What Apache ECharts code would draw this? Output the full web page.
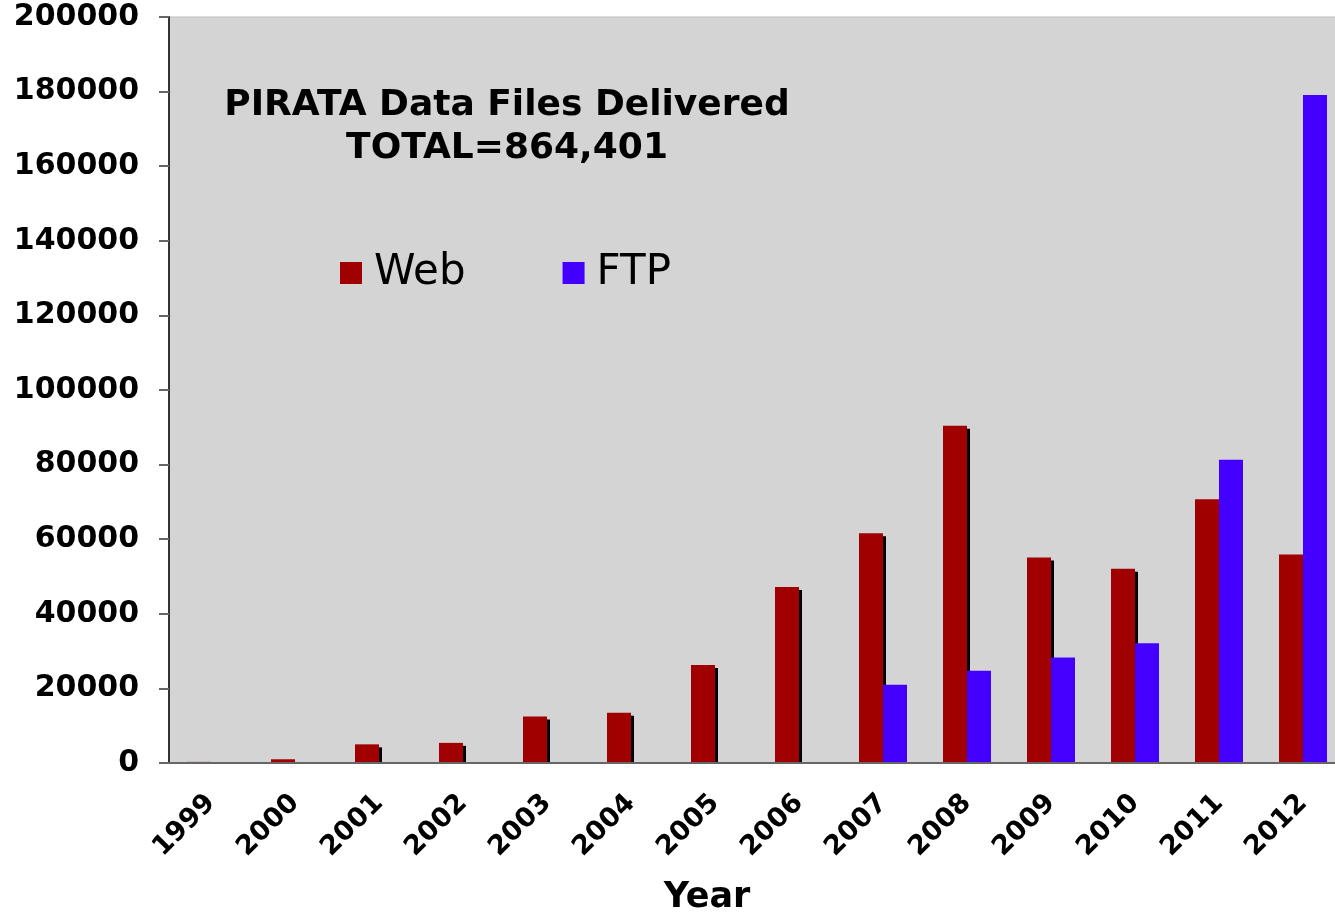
<!DOCTYPE html>
<html>
<head>
<meta charset="utf-8">
<title>PIRATA Data Files Delivered</title>
<script src="https://cdn.jsdelivr.net/npm/echarts@6/dist/echarts.min.js"></script>
<style>
  html, body { margin: 0; padding: 0; background: #fff; }
  #main { width: 1335px; height: 916px; }
</style>
</head>
<body>
<div id="main"></div>
<script>
// data
var years = ['1999', '2000', '2001', '2002', '2003', '2004', '2005', '2006', '2007', '2008', '2009', '2010', '2011', '2012']
var webFiles = [300, 1000, 5000, 5400, 12500, 13500, 26300, 47200, 61600, 90400, 55100, 52100, 70700, 55900]
var ftpFiles = [0, 0, 0, 0, 0, 0, 0, 0, 21000, 24700, 28300, 32100, 81300, 179100]
var titleLines = ['PIRATA Data Files Delivered', 'TOTAL=864,401']

var font = 'DejaVu Sans'
var chart = echarts.init(document.getElementById('main'))
var option = {
  animation: false,
  backgroundColor: '#fff',
  title: {
    text: titleLines.join('\n'),
    left: 502,
    top: 79,
    textAlign: 'center',
    textStyle: {
      fontFamily: font,
      fontSize: 36,
      fontWeight: 'bold',
      color: '#000',
      lineHeight: 43,
      align: 'center'
    }
  },
  legend: {
    left: 335,
    top: 247,
    itemWidth: 22,
    itemHeight: 22,
    itemGap: 97,
    icon: 'rect',
    textStyle: { fontFamily: font, fontSize: 42, color: '#000', padding: [0, 0, 0, 7] },
    data: ['Web', 'FTP']
  },
  // white strip hides the bar shadows that would fall under the axis line
  graphic: [{
    type: 'rect',
    z: 5,
    shape: { x: 170, y: 764, width: 1200, height: 6 },
    style: { fill: '#fff' }
  }],
  grid: {
    left: 169,
    top: 17,
    width: 1176,
    bottom: 153,
    outerBoundsMode: 'none',
    containLabel: false,
    show: true,
    backgroundColor: '#d4d4d4',
    borderColor: '#bbb',
    borderWidth: 1
  },
  xAxis: {
    type: 'category',
    data: years,
    z: 10,
    name: 'Year',
    nameLocation: 'middle',
    nameGap: 117,
    nameTextStyle: {
      fontFamily: font, fontSize: 35, fontWeight: 'bold', color: '#000',
      padding: [0, 100, 0, 0]
    },
    axisLine: { lineStyle: { color: '#666', width: 2 } },
    axisTick: { length: 8, lineStyle: { color: '#666', width: 2 } },
    axisLabel: {
      rotate: 45,
      margin: 36,
      fontFamily: font,
      fontSize: 27,
      fontWeight: 'bold',
      color: '#000'
    }
  },
  yAxis: {
    type: 'value',
    min: 0,
    max: 200000,
    interval: 20000,
    z: 10,
    splitLine: { show: false },
    axisLine: { show: true, lineStyle: { color: '#333', width: 2 } },
    axisTick: { show: true, length: 10, lineStyle: { color: '#666', width: 2 } },
    axisLabel: {
      margin: 30,
      padding: [4, 0, 0, 0],
      fontFamily: font,
      fontSize: 30,
      fontWeight: 'bold',
      color: '#000',
      formatter: function (v) { return String(v) }
    }
  },
  series: [
    {
      name: 'Web',
      type: 'bar',
      data: webFiles,
      barWidth: 24,
      barGap: '0%',
      itemStyle: {
        color: '#a00000',
        shadowColor: '#000',
        shadowOffsetX: 3,
        shadowOffsetY: 3,
        shadowBlur: 0
      }
    },
    {
      name: 'FTP',
      type: 'bar',
      data: ftpFiles,
      barWidth: 24,
      barGap: '0%',
      itemStyle: { color: '#4400ff' }
    }
  ]
}
chart.setOption(option)
</script>
</body>
</html>
